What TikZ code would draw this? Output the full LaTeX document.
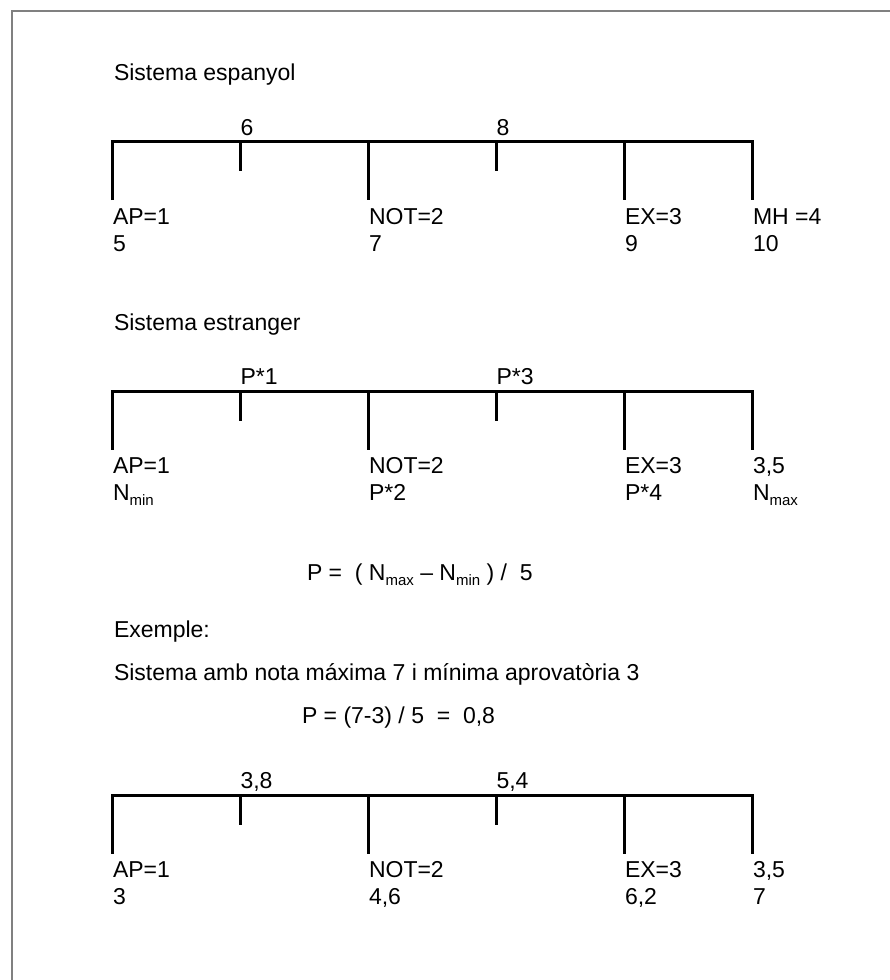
\documentclass[tikz,border=0pt]{standalone}
\usepackage{fontspec}
\setmainfont{Liberation Sans}
\newcommand\lowsub[1]{\raisebox{-0.22em}{\fontsize{15}{15}\selectfont #1}}
\tikzset{
  lbl/.style={anchor=base west, inner sep=0pt, outer sep=0pt, font=\fontsize{23}{27}\selectfont},
  bar/.style={line width=3pt, line join=miter, black},
  framestyle/.style={line width=2pt, color=black!50}
}
\begin{document}
\begin{tikzpicture}[x=1pt,y=-1pt]
\useasboundingbox (0,0) rectangle (890,980);
\fill[white] (0,0) rectangle (890,980);
\draw[framestyle] (12,980) -- (12,11) -- (890,11);

% ---------- Section 1 ----------
\node[lbl] (h1) at (114,80) {Sistema espanyol};
\draw[bar] (112.5,200) -- (112.5,141.5) -- (752.5,141.5) -- (752.5,200);
\draw[bar] (368.5,141.5) -- (368.5,200);
\draw[bar] (624.5,141.5) -- (624.5,200);
\draw[bar] (240.5,141.5) -- (240.5,171);
\draw[bar] (496.5,141.5) -- (496.5,171);
\node[lbl] (t1a) at (240.5,135) {6};
\node[lbl] (t1b) at (496.5,135) {8};
\node[lbl] (a1) at (113,224) {AP=1};
\node[lbl] (a1v) at (113,251) {5};
\node[lbl] (b1) at (369,224) {NOT=2};
\node[lbl] (b1v) at (369,251) {7};
\node[lbl] (c1) at (625,224) {EX=3};
\node[lbl] (c1v) at (625,251) {9};
\node[lbl] (d1) at (753,224) {MH =4};
\node[lbl] (d1v) at (753,251) {10};

% ---------- Section 2 ----------
\node[lbl] (h2) at (114,330) {Sistema estranger};
\draw[bar] (112.5,449.5) -- (112.5,391) -- (752.5,391) -- (752.5,449.5);
\draw[bar] (368.5,391) -- (368.5,449.5);
\draw[bar] (624.5,391) -- (624.5,449.5);
\draw[bar] (240.5,391) -- (240.5,421);
\draw[bar] (496.5,391) -- (496.5,421);
\node[lbl] (t2a) at (240.5,384.5) {P*1};
\node[lbl] (t2b) at (496.5,384.5) {P*3};
\node[lbl] (a2) at (113,473.5) {AP=1};
\node[lbl] (a2v) at (113,500.5) {N\lowsub{min}};
\node[lbl] (b2) at (369,473.5) {NOT=2};
\node[lbl] (b2v) at (369,500.5) {P*2};
\node[lbl] (c2) at (625,473.5) {EX=3};
\node[lbl] (c2v) at (625,500.5) {P*4};
\node[lbl] (d2) at (753,473.5) {3,5};
\node[lbl] (d2v) at (753,500.5) {N\lowsub{max}};

\node[lbl] (form) at (307,580) {P =\ \ ( N\lowsub{max} – N\lowsub{min} ) /\ \ 5};
\node[lbl] (ex) at (114,637) {Exemple:};
\node[lbl] (exs) at (114,680) {Sistema amb nota máxima 7 i mínima aprovatòria 3};
\node[lbl] (exp) at (302,723) {P = (7-3) / 5\ \ =\ \ 0,8};

% ---------- Section 3 ----------
\draw[bar] (112.5,853.5) -- (112.5,795) -- (752.5,795) -- (752.5,853.5);
\draw[bar] (368.5,795) -- (368.5,853.5);
\draw[bar] (624.5,795) -- (624.5,853.5);
\draw[bar] (240.5,795) -- (240.5,825);
\draw[bar] (496.5,795) -- (496.5,825);
\node[lbl] (t3a) at (240.5,788.5) {3,8};
\node[lbl] (t3b) at (496.5,788.5) {5,4};
\node[lbl] (a3) at (113,877.5) {AP=1};
\node[lbl] (a3v) at (113,904) {3};
\node[lbl] (b3) at (369,877.5) {NOT=2};
\node[lbl] (b3v) at (369,904) {4,6};
\node[lbl] (c3) at (625,877.5) {EX=3};
\node[lbl] (c3v) at (625,904) {6,2};
\node[lbl] (d3) at (753,877.5) {3,5};
\node[lbl] (d3v) at (753,904) {7};
\end{tikzpicture}
\end{document}
